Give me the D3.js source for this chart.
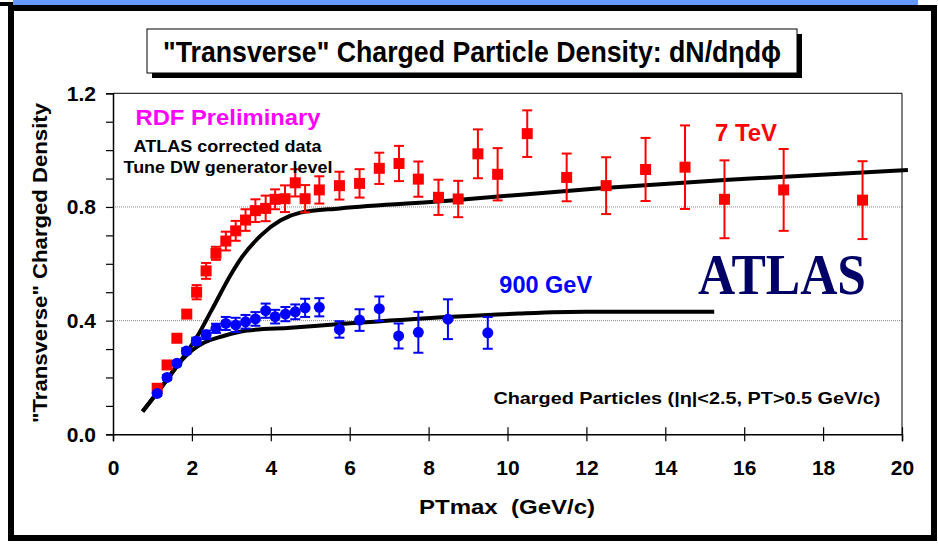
<!DOCTYPE html>
<html>
<head>
<meta charset="utf-8">
<script src="https://cdn.jsdelivr.net/npm/d3@7"></script>
<style>
  body { margin: 0; background: #fff; }
  text { font-family: "Liberation Sans", Arial, sans-serif; font-weight: bold; }
</style>
</head>
<body>
<div id="chart"></div>
<script>
// 7 TeV data points (PTmax, density, error)
const redX   = [1.12, 1.37, 1.62, 1.87, 2.12, 2.36, 2.61, 2.86, 3.11, 3.36, 3.61, 3.87, 4.11, 4.36, 4.62, 4.87, 5.23,
                5.74, 6.25, 6.75, 7.25, 7.74, 8.25, 8.75, 9.25, 9.75, 10.5, 11.5, 12.5, 13.5, 14.5, 15.5, 17.0, 19.0]
const redY   = [0.162, 0.244, 0.338, 0.423, 0.50, 0.575, 0.637, 0.68, 0.716, 0.754, 0.787, 0.795, 0.827, 0.829, 0.885, 0.829, 0.86,
                0.875, 0.883, 0.936, 0.953, 0.898, 0.834, 0.828, 0.987, 0.915, 1.058, 0.904, 0.875, 0.932, 0.94, 0.827, 0.86, 0.824]
const redErr = [0.008, 0.008, 0.01, 0.012, 0.025, 0.028, 0.023, 0.033, 0.035, 0.038, 0.04, 0.045, 0.035, 0.047, 0.048, 0.048, 0.048,
                0.049, 0.05, 0.055, 0.062, 0.062, 0.062, 0.064, 0.086, 0.092, 0.082, 0.084, 0.10, 0.111, 0.147, 0.137, 0.144, 0.137]

// 900 GeV data points
const blueX   = [1.12, 1.37, 1.62, 1.86, 2.11, 2.36, 2.61, 2.86, 3.11, 3.36, 3.61, 3.87, 4.11, 4.37, 4.62, 4.87, 5.23,
                 5.74, 6.25, 6.75, 7.24, 7.74, 8.49, 9.5]
const blueY   = [0.144, 0.20, 0.25, 0.293, 0.328, 0.35, 0.373, 0.39, 0.385, 0.396, 0.406, 0.435, 0.414, 0.423, 0.431, 0.445, 0.447,
                 0.369, 0.402, 0.442, 0.346, 0.359, 0.405, 0.357]
const blueErr = [0.008, 0.008, 0.008, 0.01, 0.012, 0.015, 0.016, 0.023, 0.025, 0.024, 0.024, 0.025, 0.024, 0.025, 0.026, 0.032, 0.032,
                 0.029, 0.038, 0.043, 0.044, 0.072, 0.070, 0.056]

// Tune DW generator level curves
const dw7X   = [0.75, 1.25, 1.75, 2.13, 2.5, 3.0, 3.25, 3.75, 4.25, 4.75, 5.75, 8.5, 12.35, 15.5, 20.15]
const dw7Y   = [0.08, 0.17, 0.265, 0.343, 0.437, 0.565, 0.62, 0.70, 0.753, 0.78, 0.795, 0.822, 0.866, 0.895, 0.93]
const dw900X = [0.75, 1.25, 1.75, 2.0, 2.3, 2.8, 3.4, 4.5, 5.75, 8.6, 10.3, 12.0, 15.24]
const dw900Y = [0.08, 0.17, 0.262, 0.295, 0.322, 0.346, 0.365, 0.375, 0.388, 0.414, 0.425, 0.431, 0.431]

const xTicks = [0, 2, 4, 6, 8, 10, 12, 14, 16, 18, 20]
const yTicks = [0, 0.1, 0.2, 0.3, 0.4, 0.5, 0.6, 0.7, 0.8, 0.9, 1.0, 1.1, 1.2]
const yLabels = [0, 0.4, 0.8, 1.2]
const yGrid = [0.4, 0.8]

const W = 938, H = 545
const plot = { left: 113, right: 902, top: 93.3, bottom: 434.3 }

const xScale = d3.scaleLinear().domain([0, 20]).range([plot.left, plot.right])
const yScale = d3.scaleLinear().domain([0, 1.2]).range([plot.bottom, plot.top])

const svg = d3.select('#chart').append('svg')
    .attr('width', W)
    .attr('height', H)

// squeeze or stretch a text to a measured width
function fit(sel, w) {
    return sel.attr('textLength', w).attr('lengthAdjust', 'spacingAndGlyphs')
}

// slide frame
svg.append('rect').attr('x', 13).attr('y', 0).attr('width', 905).attr('height', 6).attr('fill', '#6699ff')
svg.append('rect').attr('x', 0).attr('y', 2).attr('width', 13).attr('height', 4).attr('fill', '#000')
svg.append('rect')
    .attr('x', 11).attr('y', 8)
    .attr('width', 923).attr('height', 530)
    .attr('fill', '#fff')
    .attr('stroke', '#000')
    .attr('stroke-width', 6)

// title box with drop shadow
svg.append('rect').attr('x', 152).attr('y', 34).attr('width', 650).attr('height', 44).attr('fill', '#000')
svg.append('rect').attr('x', 147).attr('y', 29).attr('width', 650).attr('height', 44)
    .attr('fill', '#fff').attr('stroke', '#000').attr('stroke-width', 1)
svg.append('text')
    .attr('x', 163).attr('y', 62)
    .style('font-size', '29px')
    .text('"Transverse" Charged Particle Density: dN/dηdϕ')
    .call(fit, 618)

// grid lines at 0.4 and 0.8
svg.selectAll('.grid')
    .data(yGrid)
    .join('line')
    .attr('class', 'grid')
    .attr('x1', plot.left).attr('x2', plot.right)
    .attr('y1', d => yScale(d)).attr('y2', d => yScale(d))
    .attr('stroke', '#888')
    .attr('stroke-width', 1)
    .attr('stroke-dasharray', '1,1')

// plot frame, top and right
svg.append('path')
    .attr('d', `M${plot.left},${plot.top}H${plot.right}V${plot.bottom}`)
    .attr('fill', 'none')
    .attr('stroke', '#000')
    .attr('stroke-width', 1)

// x axis, ticks cross the line
svg.append('g')
    .attr('transform', `translate(0,${plot.bottom})`)
    .call(d3.axisBottom(xScale).tickValues(xTicks).tickSize(7).tickFormat(d3.format('d')))
    .call(g => g.select('.domain').attr('stroke-width', 1.5))
    .call(g => g.selectAll('.tick line').attr('y1', d => d === 0 ? 0 : -7).attr('stroke-width', 1.2))
    .call(g => g.selectAll('.tick text')
        .attr('y', 40.7).attr('dy', null)
        .attr('fill', '#000')
        .style('font-size', '21px')
        .style('font-family', '"Liberation Sans", Arial, sans-serif'))

// y axis, minor ticks every 0.1, labels every 0.4
svg.append('g')
    .attr('transform', `translate(${plot.left},0)`)
    .call(d3.axisLeft(yScale).tickValues(yTicks).tickSize(7).tickPadding(10)
        .tickFormat(d => yLabels.some(v => Math.abs(v - d) < 1e-9) ? d3.format('.1f')(d) : ''))
    .call(g => g.select('.domain').attr('stroke-width', 1.5))
    .call(g => g.selectAll('.tick line').attr('stroke-width', 1.2))
    .call(g => g.selectAll('.tick text')
        .attr('fill', '#000')
        .style('font-size', '21px')
        .style('font-family', '"Liberation Sans", Arial, sans-serif'))

// axis titles
svg.append('text')
    .attr('x', 419).attr('y', 514)
    .style('font-size', '21px')
    .style('white-space', 'pre')
    .text('PTmax  (GeV/c)')
    .call(fit, 176)

svg.append('text')
    .attr('transform', 'translate(47,263) rotate(-90)')
    .attr('text-anchor', 'middle')
    .style('font-size', '21px')
    .text('"Transverse" Charged Density')
    .call(fit, 320)

// generator level curves
const line = d3.line()
    .x(d => xScale(d[0]))
    .y(d => yScale(d[1]))
    .curve(d3.curveMonotoneX)

svg.append('path')
    .datum(d3.zip(dw7X, dw7Y))
    .attr('d', line)
    .attr('fill', 'none').attr('stroke', '#000').attr('stroke-width', 4)

svg.append('path')
    .datum(d3.zip(dw900X, dw900Y))
    .attr('d', line)
    .attr('fill', 'none').attr('stroke', '#000').attr('stroke-width', 4)

// error bars with caps
function errorBars(xs, ys, es, color) {
    const pts = d3.zip(xs, ys, es)
    const g = svg.append('g').attr('stroke', color).attr('stroke-width', 2)
    g.selectAll('.bar')
        .data(pts)
        .join('line')
        .attr('x1', d => xScale(d[0])).attr('x2', d => xScale(d[0]))
        .attr('y1', d => yScale(d[1] - d[2])).attr('y2', d => yScale(d[1] + d[2]))
    g.selectAll('.capTop')
        .data(pts)
        .join('line')
        .attr('x1', d => xScale(d[0]) - 5).attr('x2', d => xScale(d[0]) + 5)
        .attr('y1', d => yScale(d[1] + d[2])).attr('y2', d => yScale(d[1] + d[2]))
    g.selectAll('.capBottom')
        .data(pts)
        .join('line')
        .attr('x1', d => xScale(d[0]) - 5).attr('x2', d => xScale(d[0]) + 5)
        .attr('y1', d => yScale(d[1] - d[2])).attr('y2', d => yScale(d[1] - d[2]))
}

errorBars(redX, redY, redErr, '#ff0000')
errorBars(blueX, blueY, blueErr, '#0000ff')

// markers
svg.append('g').selectAll('rect')
    .data(d3.zip(redX, redY))
    .join('rect')
    .attr('x', d => xScale(d[0]) - 5.5)
    .attr('y', d => yScale(d[1]) - 5.5)
    .attr('width', 11).attr('height', 11)
    .attr('fill', '#ff0000')

svg.append('g').selectAll('circle')
    .data(d3.zip(blueX, blueY))
    .join('circle')
    .attr('cx', d => xScale(d[0]))
    .attr('cy', d => yScale(d[1]))
    .attr('r', 5.5)
    .attr('fill', '#0000ff')

// labels inside the plot
svg.append('text')
    .attr('x', 228).attr('y', 125).attr('text-anchor', 'middle')
    .attr('fill', '#ff00ff').style('font-size', '22px')
    .text('RDF Preliminary').call(fit, 185)

svg.append('text')
    .attr('x', 227.5).attr('y', 151.7).attr('text-anchor', 'middle')
    .style('font-size', '16.5px')
    .text('ATLAS corrected data').call(fit, 188)

svg.append('text')
    .attr('x', 228).attr('y', 173.3).attr('text-anchor', 'middle')
    .style('font-size', '16.5px')
    .text('Tune DW generator level').call(fit, 209)

svg.append('text')
    .attr('x', 746).attr('y', 140.7).attr('text-anchor', 'middle')
    .attr('fill', '#ff0000').style('font-size', '24px')
    .text('7 TeV')

svg.append('text')
    .attr('x', 545.7).attr('y', 292.7).attr('text-anchor', 'middle')
    .attr('fill', '#0000ff').style('font-size', '23.5px')
    .text('900 GeV')

svg.append('text')
    .attr('x', 698).attr('y', 294)
    .attr('fill', '#000066')
    .style('font-family', '"Liberation Serif", "Times New Roman", serif')
    .style('font-size', '56px')
    .text('ATLAS').call(fit, 168)

svg.append('text')
    .attr('x', 493.4).attr('y', 404)
    .style('font-size', '17px')
    .text('Charged Particles (|η|<2.5, PT>0.5 GeV/c)').call(fit, 387)
</script>
</body>
</html>
